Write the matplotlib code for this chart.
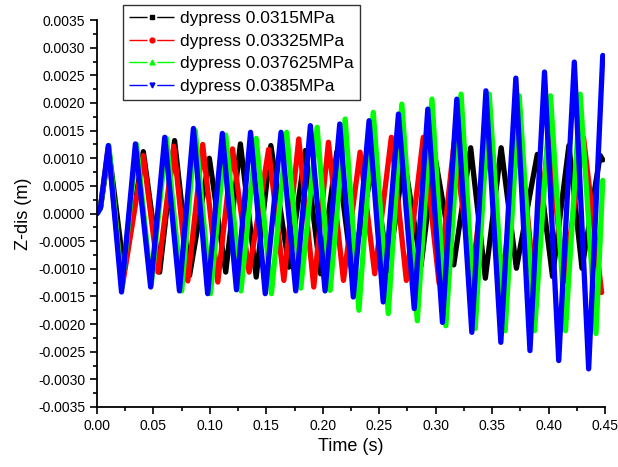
import matplotlib
matplotlib.use("Agg")
import matplotlib.pyplot as plt
from matplotlib.lines import Line2D
from matplotlib.ticker import MultipleLocator, FormatStrFormatter

plt.rcParams['font.family'] = ['Liberation Sans', 'DejaVu Sans']

# values (time in s, Z displacement in mm -> scaled to m below)
t_black = [0, 0.003, 0.0105, 0.024, 0.041, 0.0555, 0.0687, 0.082, 0.0995, 0.114,
           0.127, 0.141, 0.154, 0.170, 0.1846, 0.198, 0.2125, 0.2257, 0.2447, 0.258,
           0.272, 0.287, 0.299, 0.316, 0.331, 0.344, 0.358, 0.3715, 0.390, 0.4035,
           0.418, 0.4296, 0.4457, 0.448]
z_black = [0, 0.10, 1.15, -1.05, 1.12, -1.06, 1.32, -1.12, 1.00, -1.06,
           1.26, -1.15, 1.23, -0.97, 1.14, -1.09, 1.12, -1.03, 0.90, -1.03,
           1.00, -0.95, 1.07, -0.93, 1.19, -1.17, 1.19, -0.99, 1.07, -1.14,
           1.23, -0.99, 1.05, 0.97]

t_red = [0, 0.003, 0.010, 0.0223, 0.041, 0.054, 0.068, 0.0804, 0.0936, 0.107,
         0.120, 0.1347, 0.152, 0.1655, 0.1787, 0.192, 0.205, 0.2183, 0.233, 0.246,
         0.2607, 0.274, 0.289, 0.303, 0.3163, 0.332, 0.347, 0.359, 0.3738, 0.3873,
         0.400, 0.4137, 0.431, 0.447]
z_red = [0, 0.10, 1.20, -1.33, 1.05, -1.06, 1.22, -1.22, 1.25, -1.24,
         1.17, -1.06, 1.16, -1.21, 1.35, -1.33, 1.29, -1.21, 1.11, -1.09,
         1.38, -1.21, 1.38, -1.26, 1.28, -1.14, 1.34, -1.26, 1.55, -1.28,
         1.43, -1.23, 1.37, -1.43]

t_green = [0, 0.003, 0.0105, 0.022, 0.035, 0.048, 0.0615, 0.075, 0.087, 0.1005,
           0.114, 0.1275, 0.141, 0.1545, 0.168, 0.1805, 0.195, 0.2065, 0.2198, 0.232,
           0.2447, 0.258, 0.270, 0.2837, 0.2967, 0.309, 0.3225, 0.335, 0.3474, 0.3615,
           0.374, 0.3876, 0.4017, 0.415, 0.428, 0.442, 0.448]
z_green = [0, 0.10, 1.23, -1.35, 1.25, -1.30, 1.36, -1.40, 1.50, -1.45,
           1.42, -1.40, 1.36, -1.45, 1.47, -1.35, 1.56, -1.39, 1.71, -1.75,
           1.83, -1.81, 1.98, -1.94, 2.07, -2.03, 2.16, -2.08, 2.16, -2.12,
           2.13, -2.12, 2.13, -2.12, 2.16, -2.17, 0.60]

t_blue = [0, 0.003, 0.010, 0.0217, 0.034, 0.0475, 0.060, 0.073, 0.0854, 0.098,
          0.111, 0.1235, 0.136, 0.149, 0.163, 0.176, 0.189, 0.202, 0.215, 0.227,
          0.241, 0.2535, 0.267, 0.281, 0.293, 0.306, 0.3187, 0.332, 0.3445, 0.3577,
          0.371, 0.3835, 0.3964, 0.409, 0.4228, 0.4355, 0.448]
z_blue = [0, 0.10, 1.23, -1.42, 1.26, -1.33, 1.38, -1.40, 1.54, -1.45,
          1.45, -1.38, 1.47, -1.45, 1.47, -1.40, 1.59, -1.40, 1.62, -1.51,
          1.68, -1.60, 1.80, -1.72, 1.89, -1.97, 2.07, -2.15, 2.22, -2.33,
          2.45, -2.48, 2.56, -2.66, 2.74, -2.81, 2.86]

labels = ['dypress 0.0315MPa', 'dypress 0.03325MPa',
          'dypress 0.037625MPa', 'dypress 0.0385MPa']
colors = ['#000000', '#ff0000', '#00ff00', '#0000ff']
markers = ['s', 'o', '^', 'v']

series = [(t_black, z_black), (t_red, z_red), (t_green, z_green), (t_blue, z_blue)]

fig = plt.figure(figsize=(6.18, 4.67), dpi=100)
ax = fig.add_axes([0.157, 0.1285, 0.822, 0.8285])

for (t, z), c in zip(series, colors):
    ax.plot(t, [v * 1e-3 for v in z], color=c, linewidth=3.8,
            solid_joinstyle='round', solid_capstyle='round')

ax.set_xlim(0, 0.45)
ax.set_ylim(-0.0035, 0.0035)
ax.xaxis.set_major_locator(MultipleLocator(0.05))
ax.xaxis.set_minor_locator(MultipleLocator(0.025))
ax.yaxis.set_major_locator(MultipleLocator(0.0005))
ax.yaxis.set_minor_locator(MultipleLocator(0.00025))
ax.xaxis.set_major_formatter(FormatStrFormatter('%.2f'))
ax.yaxis.set_major_formatter(FormatStrFormatter('%.4f'))
ax.tick_params(which='both', direction='out', width=1.2, labelsize=10)
ax.tick_params(which='major', length=5)
ax.tick_params(which='minor', length=3)
for side in ['top', 'right']:
    ax.spines[side].set_visible(False)
for side in ['left', 'bottom']:
    ax.spines[side].set_linewidth(1.3)

ax.set_xlabel('Time (s)', fontsize=13)
ax.set_ylabel('Z-dis (m)', fontsize=13)

# Origin-style legend keys: line, gap, marker, gap, line
handles = [Line2D([], [], color=c, marker=m, markersize=3.5, linewidth=1,
                  linestyle=(0, (13, 7)))
           for c, m in zip(colors, markers)]
leg = fig.legend(handles, labels, loc='upper left', bbox_to_anchor=(0.199, 0.989),
                 fontsize=12.5, frameon=True, fancybox=False, framealpha=1,
                 edgecolor='#333333', handlelength=2.6, borderpad=0.35,
                 labelspacing=0.42, handletextpad=0.35, borderaxespad=0)
leg.get_frame().set_linewidth(1.0)

fig.savefig('out.png', dpi=100)
